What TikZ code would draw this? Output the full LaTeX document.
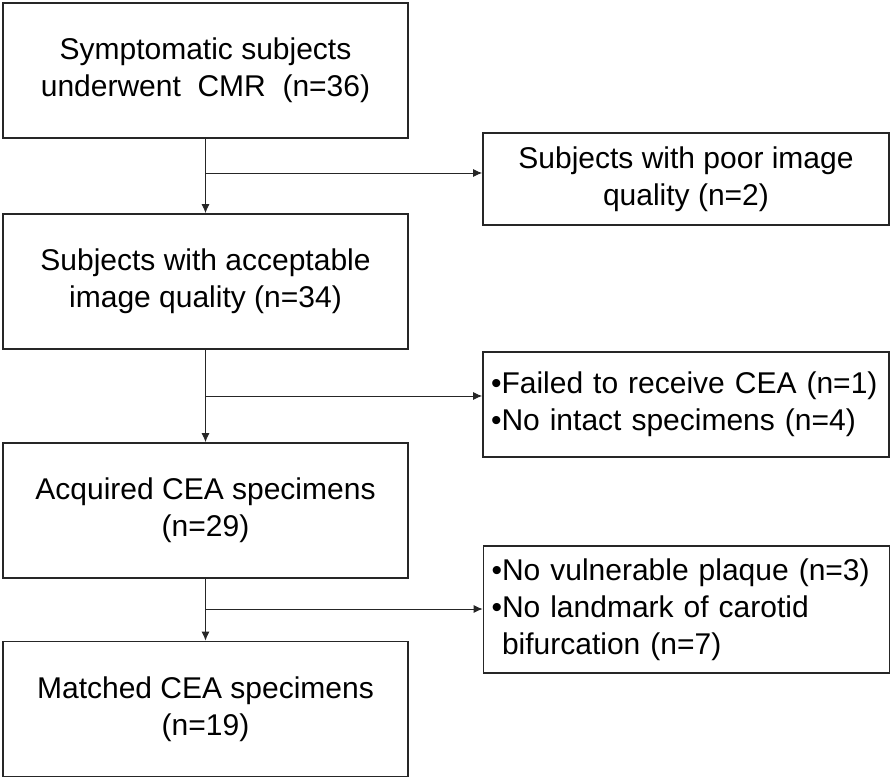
\documentclass[tikz,border=0pt]{standalone}
\usepackage{fontspec}
\setmainfont{Liberation Sans}
\usetikzlibrary{arrows.meta}

\begin{document}
\begin{tikzpicture}[x=0.5pt,y=-0.5pt,
    stage/.style={draw=black!85,line width=0.85pt,minimum width=202.5pt,minimum height=67.5pt,
      align=center,inner sep=0pt,font=\fontsize{15}{18.5}\selectfont},
    excl/.style={stage,text width=195pt,inner xsep=4pt,minimum width=203pt,align=left},
    flow/.style={draw=black!85,line width=0.45pt,-{Latex[length=4.5pt,width=4pt]}}]
  \useasboundingbox (0,0) rectangle (894,780);
  % main column
  \draw
    (205.5,70.5) node[stage] (cmr){Symptomatic subjects\\underwent~ CMR~~(n=36)}
    (205.5,281.5) node[stage] (qual){Subjects with acceptable\\image quality (n=34)}
    (205.5,510.5) node[stage] (acq){Acquired CEA specimens\\(n=29)}
    (205.5,709) node[stage] (match){Matched CEA specimens\\(n=19)};
  % exclusions
  \draw
    (686,179) node[stage,minimum width=203pt,minimum height=46pt] (poor){Subjects with poor image\\quality (n=2)}
    (686,404.5) node[excl,minimum height=52.5pt] (fail){\mbox{\textbullet Failed to receive CEA (n=1)}\\\textbullet No intact specimens (n=4)}
    (686.5,609.5) node[excl,minimum height=63.5pt] (plaque){\mbox{\textbullet No vulnerable plaque (n=3)}\\\textbullet No landmark of carotid\\\hphantom{\textbullet}bifurcation (n=7)};
  \coordinate (b1) at (205.5,173);
  \coordinate (b2) at (205.5,396);
  \coordinate (b3) at (205.5,609);
  \begin{scope}[flow]
    \draw (cmr) -- (qual);
    \draw (qual) -- (acq);
    \draw (acq) -- (match);
    \draw (b1) -- (poor.west |- b1);
    \draw (b2) -- (fail.west |- b2);
    \draw (b3) -- (plaque.west |- b3);
  \end{scope}
\end{tikzpicture}
\end{document}
